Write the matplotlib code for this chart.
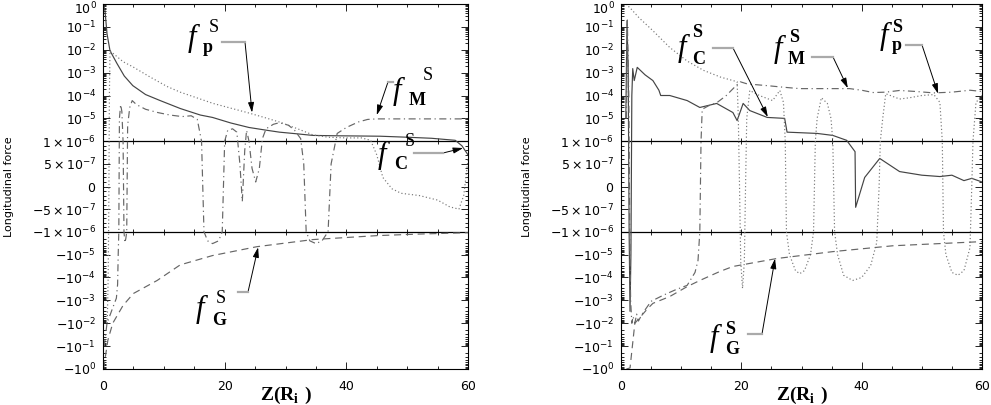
import matplotlib.pyplot as plt
import matplotlib.ticker as ticker
from matplotlib.lines import Line2D

plt.rcParams['mathtext.fontset'] = 'custom'
plt.rcParams['mathtext.bf'] = 'Liberation Serif:bold'

W, H = 991, 405

# ---------------- left panel data (Z in R_i, force) ----------------
left_z_C = [0.1, 0.33, 0.66, 1.15, 2.3, 3.5, 4.9, 7, 9.4, 12.7, 16, 18, 21, 24, 27, 29,
            32, 34.5, 38, 42, 45.6, 50, 54, 57.9, 59, 60]
left_C = [0.89, 0.5, 0.05, 9.1e-3, 2.5e-3, 7.1e-4, 2.7e-4, 1.1e-4, 6e-5, 2.7e-5, 1.4e-5,
          1.1e-5, 6.3e-6, 4e-6, 3e-6, 2.5e-6, 2.1e-6, 1.8e-6, 1.74e-6, 1.7e-6, 1.66e-6,
          1.5e-6, 1.35e-6, 1.1e-6, 9e-7, 7e-7]

left_z_p = [0.7, 0.85, 0.95, 1.05, 1.15, 2.3, 3.3, 4.9, 7.5, 10.5, 12.7, 16, 18.1, 21, 23.7,
            26.5, 29.1, 32, 34.5, 37, 40, 42.5, 44, 45, 46, 47.5, 49, 52, 55, 57, 58.5,
            59.3, 60]
left_p = [-1e-2, -1e-4, -5e-7, 1e-4, 9e-3, 5e-3, 3e-3, 1.8e-3, 7e-4, 2.5e-4, 1.4e-4, 7e-5,
          4.5e-5, 2.8e-5, 1.8e-5, 1.1e-5, 6.8e-6, 3.5e-6, 1.9e-6, 1.5e-6, 1.4e-6, 1.4e-6,
          1.1e-6, 7e-7, 2e-7, -5e-8, -1.5e-7, -2e-7, -3e-7, -4.5e-7, -5e-7, -2e-7, 6e-7]

left_z_M = [0.2, 0.66, 1.5, 2.2, 2.4, 2.5, 2.6, 2.7, 2.9, 3.1, 3.3, 3.45, 3.6, 3.75, 3.9,
            4.05, 4.4, 4.8, 5.5, 7, 9, 11, 13, 14.5, 15.5, 16.2, 16.6, 17.2, 18, 19, 19.6,
            20.0, 20.5, 21.3, 22.0, 22.5, 22.9, 23.3, 23.6, 24.0, 24.5, 25.1, 25.7, 26.2,
            26.8, 28, 29, 30.5, 31.5, 32.5, 33.0, 33.4, 34, 35, 36, 37, 37.5, 38.5, 40, 42,
            43.5, 45, 48, 52, 56, 60]
left_M = [-1e-1, -1e-2, -2.5e-3, -8e-4, -2e-4, -1e-5, -1e-6, 1e-5, 4e-5, 2e-5, 1e-6, -1e-6,
          -3e-6, -2e-6, -1e-6, 5e-6, 3e-5, 6e-5, 4e-5, 2.5e-5, 1.8e-5, 1.4e-5, 1.2e-5,
          1.3e-5, 9e-6, 1e-6, -1e-6, -2.5e-6, -3.3e-6, -2.5e-6, -1e-6, 1e-6, 3e-6, 3.5e-6,
          2.5e-6, 5e-7, -3.3e-7, 8e-7, 3e-6, 1e-6, 4e-7, 1e-7, 4e-7, 1.3e-6, 3.5e-6,
          5.5e-6, 6.5e-6, 5e-6, 3e-6, 1.3e-6, 5e-7, -1e-6, -2.5e-6, -3.3e-6, -2.5e-6,
          -1e-6, 5e-7, 2.2e-6, 4e-6, 7e-6, 9e-6, 9.5e-6, 9.5e-6, 9.5e-6, 9.5e-6, 9.5e-6]

left_z_G = [0.1, 0.8, 1.6, 3.3, 5, 8.9, 12.7, 18, 25.3, 34.5, 45, 52, 60]
left_G = [-0.95, -5.5e-2, -1e-2, -1.66e-3, -5e-4, -1.35e-4, -2.8e-5, -1.1e-5, -4.5e-6,
          -2.2e-6, -1.48e-6, -1.26e-6, -1.1e-6]

# ---------------- right panel data ----------------
right_z_C = [0.8, 1.0, 1.2, 1.35, 1.5, 1.65, 1.8, 1.95, 2.2, 2.7, 4, 5.3, 6.3, 6.6, 8.1, 11,
             13.1, 15.9, 18.6, 19.3, 20.3, 21.4, 24.3, 27.2, 27.6, 32.6, 35.2, 37.5, 38.9,
             39.0, 40.5, 43.0, 46.3, 50, 53, 55, 57, 58.3, 60]
right_C = [1e-5, 1.8e-1, 1e-3, -1e-6, -3e-3, -1e-5, 1e-4, 1.5e-3, 4.5e-4, 1.7e-3, 8e-4,
           4.5e-4, 1.7e-4, 1e-4, 1e-4, 6e-5, 3e-5, 4.5e-5, 1.8e-5, 8e-6, 4.5e-5, 2.2e-5,
           1.1e-5, 1e-5, 2.5e-6, 2.2e-6, 1.8e-6, 1.1e-6, 7.7e-7, -4.6e-7, 2e-7, 6.2e-7,
           3.3e-7, 2.5e-7, 2.2e-7, 2.5e-7, 1.3e-7, 1.8e-7, 1e-7]

right_z_p = [0.8, 1.5, 3, 5.3, 8.1, 11, 13.7, 16.6, 18.6, 19.3, 19.5, 19.7, 19.9, 20.2, 20.5,
             20.7, 20.9, 21.4, 23, 25.2, 26.4, 27.0, 27.3, 27.5, 28, 29, 29.7, 30.5, 31.5,
             32.0, 32.3, 32.6, 33.3, 34.3, 34.9, 35.2, 35.5, 36, 37, 38.5, 40, 41.5, 42.5,
             42.9, 43.1, 43.5, 44, 46.3, 48, 50, 52, 53, 53.4, 53.6, 54, 55, 56, 57, 58,
             58.3, 58.5, 59, 60]
right_p = [1.0, 0.68, 0.25, 6.8e-2, 1.26e-2, 3.2e-3, 1.26e-3, 6.3e-4, 4.5e-4, 4e-4, 1e-5, 0,
           -2e-5, -3e-4, -2e-5, 0, 1e-5, 1.66e-4, 1e-4, 6e-5, 1.66e-4, 5e-5, 1e-6, -1e-6,
           -1e-5, -5e-5, -6.8e-5, -5e-5, -1e-5, -1e-6, 1e-6, 1e-5, 8e-5, 4.5e-5, 1e-5, 1e-6,
           -1e-6, -1e-5, -8e-5, -1.35e-4, -1e-4, -3e-5, -3e-6, 0, 1e-6, 1e-5, 1.2e-4, 7e-5,
           8e-5, 1e-4, 1.1e-4, 5e-5, 1e-6, -1e-6, -1e-5, -6e-5, -8e-5, -5e-5, -5e-6, 0,
           1e-6, 5e-5, 1e-4]

right_z_M = [0.9, 1.05, 1.3, 1.45, 1.6, 1.8, 2.0, 2.3, 2.6, 2.9, 3.5, 5, 7, 9, 11, 12.3,
             12.8, 13.1, 13.2, 13.3, 13.5, 14.5, 16, 17.5, 19, 19.8, 21, 24.3, 27, 29.7, 33,
             38, 40, 41.9, 44, 46.3, 49, 52, 55, 58, 60]
right_M = [1e-5, 0.2, 1e-4, -1e-6, -1e-3, -1e-2, -5e-3, -1e-2, -4e-3, -8e-3, -4e-3, -1.1e-3,
           -6e-4, -3.5e-4, -2.2e-4, -6e-5, -1.8e-5, -1e-6, 0, 1e-6, 2.5e-5, 3.5e-5, 5e-5,
           1e-4, 2.5e-4, 4e-4, 3.2e-4, 2.7e-4, 2.3e-4, 2e-4, 2e-4, 2e-4, 1.7e-4, 1.35e-4,
           1.4e-4, 1.66e-4, 1.5e-4, 1.3e-4, 1.4e-4, 1.7e-4, 1.5e-4]

right_z_G = [0.9, 1.5, 2.3, 4.3, 5.3, 8.1, 11, 13.1, 16.4, 18.6, 25.9, 35.2, 45.2, 60]
right_G = [-1.0, -0.9, -1e-2, -2.5e-3, -1.35e-3, -6.8e-4, -2.5e-4, -1.35e-4, -5.5e-5,
           -3.3e-5, -1.48e-5, -7.4e-6, -4.1e-6, -2.7e-6]

# y axis tick labels (the top one, 10^0, is drawn separately so it stays inside the image)
top_label = r'$10^{0}$'
log_ticks = [1, 1e-1, 1e-2, 1e-3, 1e-4, 1e-5]
log_labels = ['', r'$10^{-1}$', r'$10^{-2}$', r'$10^{-3}$', r'$10^{-4}$', r'$10^{-5}$']
lin_ticks = [1e-6, 5e-7, 0, -5e-7, -1e-6]
lin_labels = [r'$1\times10^{-6}$', r'$5\times10^{-7}$', r'$0$', r'$-5\times10^{-7}$',
              r'$-1\times10^{-6}$']
neg_ticks = [-1e-5, -1e-4, -1e-3, -1e-2, -1e-1, -1]
neg_labels = [r'$-10^{-5}$', r'$-10^{-4}$', r'$-10^{-3}$', r'$-10^{-2}$', r'$-10^{-1}$',
              r'$-10^{0}$']

# annotation tags: pixel positions of text pieces, leader segment, arrow tip (data)
left_tags = [
    dict(sub='p', f=(188, 46), s=(203, 52), u=(209, 32), bold=False,
         lead=((222, 42), (245, 42)), tip=(24.5, 1.8e-5)),
    dict(sub='M', f=(393, 99), s=(409, 105), u=(423, 80), bold=False,
         lead=((393, 82), (388, 82)), tip=(45, 1.4e-5)),
    dict(sub='C', f=(378, 163), s=(394, 169), u=(405, 146), bold=False,
         lead=((414, 153), (443, 153)), tip=(59.2, 8.5e-7)),
    dict(sub='G', f=(196, 317), s=(212, 325), u=(216, 303), bold=False,
         lead=((238, 292), (248, 292)), tip=(25.5, -4.8e-6)),
]
right_tags = [
    dict(sub='C', f=(678, 56), s=(692, 64), u=(692, 37), bold=True,
         lead=((713, 48), (733, 48)), tip=(24.4, 1.15e-5)),
    dict(sub='M', f=(774, 57), s=(788, 64), u=(789, 42), bold=True,
         lead=((812, 57), (833, 57)), tip=(37.7, 2.1e-4)),
    dict(sub='p', f=(880, 44), s=(892, 50), u=(892, 32), bold=True,
         lead=((906, 45), (922, 45)), tip=(52.7, 1.2e-4)),
    dict(sub='G', f=(710, 346), s=(725, 354), u=(725, 334), bold=True,
         lead=((748, 334), (762, 334)), tip=(25.6, -1.5e-5)),
]


def fxy(px, py):
    return px / W, 1 - py / H


def setup_axes(ax):
    ax.set_yscale('symlog', linthresh=1e-6, linscale=1.78)
    ax.set_ylim(-1, 1)
    ax.set_xlim(0, 60)
    ax.yaxis.set_major_locator(ticker.FixedLocator(log_ticks + lin_ticks + neg_ticks))
    ax.yaxis.set_major_formatter(ticker.FixedFormatter(log_labels + lin_labels + neg_labels))
    minors = []
    for k in range(-6, 0):
        for m in range(2, 10):
            minors.append(m * 10.0 ** k)
            minors.append(-m * 10.0 ** k)
    minors += [i * 1e-7 for i in range(-9, 10)]
    ax.yaxis.set_minor_locator(ticker.FixedLocator(minors))
    ax.yaxis.set_minor_formatter(ticker.NullFormatter())
    ax.xaxis.set_major_locator(ticker.FixedLocator([0, 20, 40, 60]))
    ax.xaxis.set_minor_locator(ticker.MultipleLocator(5))
    ax.tick_params(which='both', direction='in', top=True, right=True, width=0.6)
    ax.tick_params(which='major', length=5, labelsize=9, pad=5)
    ax.tick_params(axis='x', which='major', pad=8)
    ax.tick_params(which='minor', length=2.5)
    for s in ax.spines.values():
        s.set_linewidth(0.8)
    ax.axhline(1e-6, color='k', lw=0.9)
    ax.axhline(-1e-6, color='k', lw=0.9)
    xt = list(range(0, 61, 5))
    for yv in (1e-6, -1e-6):
        ax.plot(xt, [yv] * len(xt), ls='none', marker='|', ms=4, mew=0.6, color='k')


def draw_tag(fig, ax, t):
    fx, fy = fxy(*t['f'])
    fig.text(fx, fy, 'f', family='Liberation Serif', style='italic', fontsize=22,
             va='baseline', ha='left')
    sx, sy = fxy(*t['s'])
    fig.text(sx, sy, t['sub'], family='Liberation Serif', weight='bold', fontsize=13,
             va='baseline', ha='left')
    ux, uy = fxy(*t['u'])
    fig.text(ux, uy, 'S', family='Liberation Serif',
             weight='bold' if t['bold'] else 'normal', fontsize=13, va='baseline', ha='left')
    (x0, y0), (x1, y1) = t['lead']
    a, b = fxy(x0, y0)
    c, d = fxy(x1, y1)
    fig.add_artist(Line2D([a, c], [b, d], transform=fig.transFigure, color='#aaaaaa', lw=1.6))
    ax.annotate('', xy=t['tip'], xycoords='data', xytext=(c, d), textcoords='figure fraction',
                arrowprops=dict(arrowstyle='-|>,head_length=0.6,head_width=0.18', color='k',
                                lw=0.7, shrinkA=0, shrinkB=0))


def draw_panel(fig, ax, zc, c, zp, p, zm, m, zg, g):
    setup_axes(ax)
    ax.plot(zc, c, color='#444444', lw=0.85, ls='-')
    ax.plot(zp, p, color='#777777', lw=0.85, ls=(0, (1, 2)))
    ax.plot(zm, m, color='#666666', lw=0.85, ls=(0, (6, 3, 1, 3)))
    ax.plot(zg, g, color='#666666', lw=0.85, ls=(0, (6, 4)))


fig = plt.figure(figsize=(W / 100, H / 100), dpi=100)
ax1 = fig.add_axes([103 / W, 36 / H, 365 / W, 365 / H])
ax2 = fig.add_axes([621 / W, 36 / H, 361 / W, 365 / H])

draw_panel(fig, ax1, left_z_C, left_C, left_z_p, left_p, left_z_M, left_M, left_z_G, left_G)
draw_panel(fig, ax2, right_z_C, right_C, right_z_p, right_p, right_z_M, right_M,
           right_z_G, right_G)

for t in left_tags:
    draw_tag(fig, ax1, t)
for t in right_tags:
    draw_tag(fig, ax2, t)

for cx, lx, ax_left in ((286, 9, 103), (802, 527, 621)):
    fig.text(cx / W, 1 - 395 / H, r'$\mathbf{Z(R}_{\mathbf{i}}\mathbf{\ )}$', fontsize=14,
             ha='center', va='center')
    fig.text(lx / W, 1 - 187 / H, 'Longitudinal force', rotation=90, fontsize=8,
             ha='center', va='center')
    fig.text((ax_left - 6) / W, 1 - 1 / H, top_label, fontsize=9, ha='right', va='top')

fig.savefig('out.png', dpi=100)
